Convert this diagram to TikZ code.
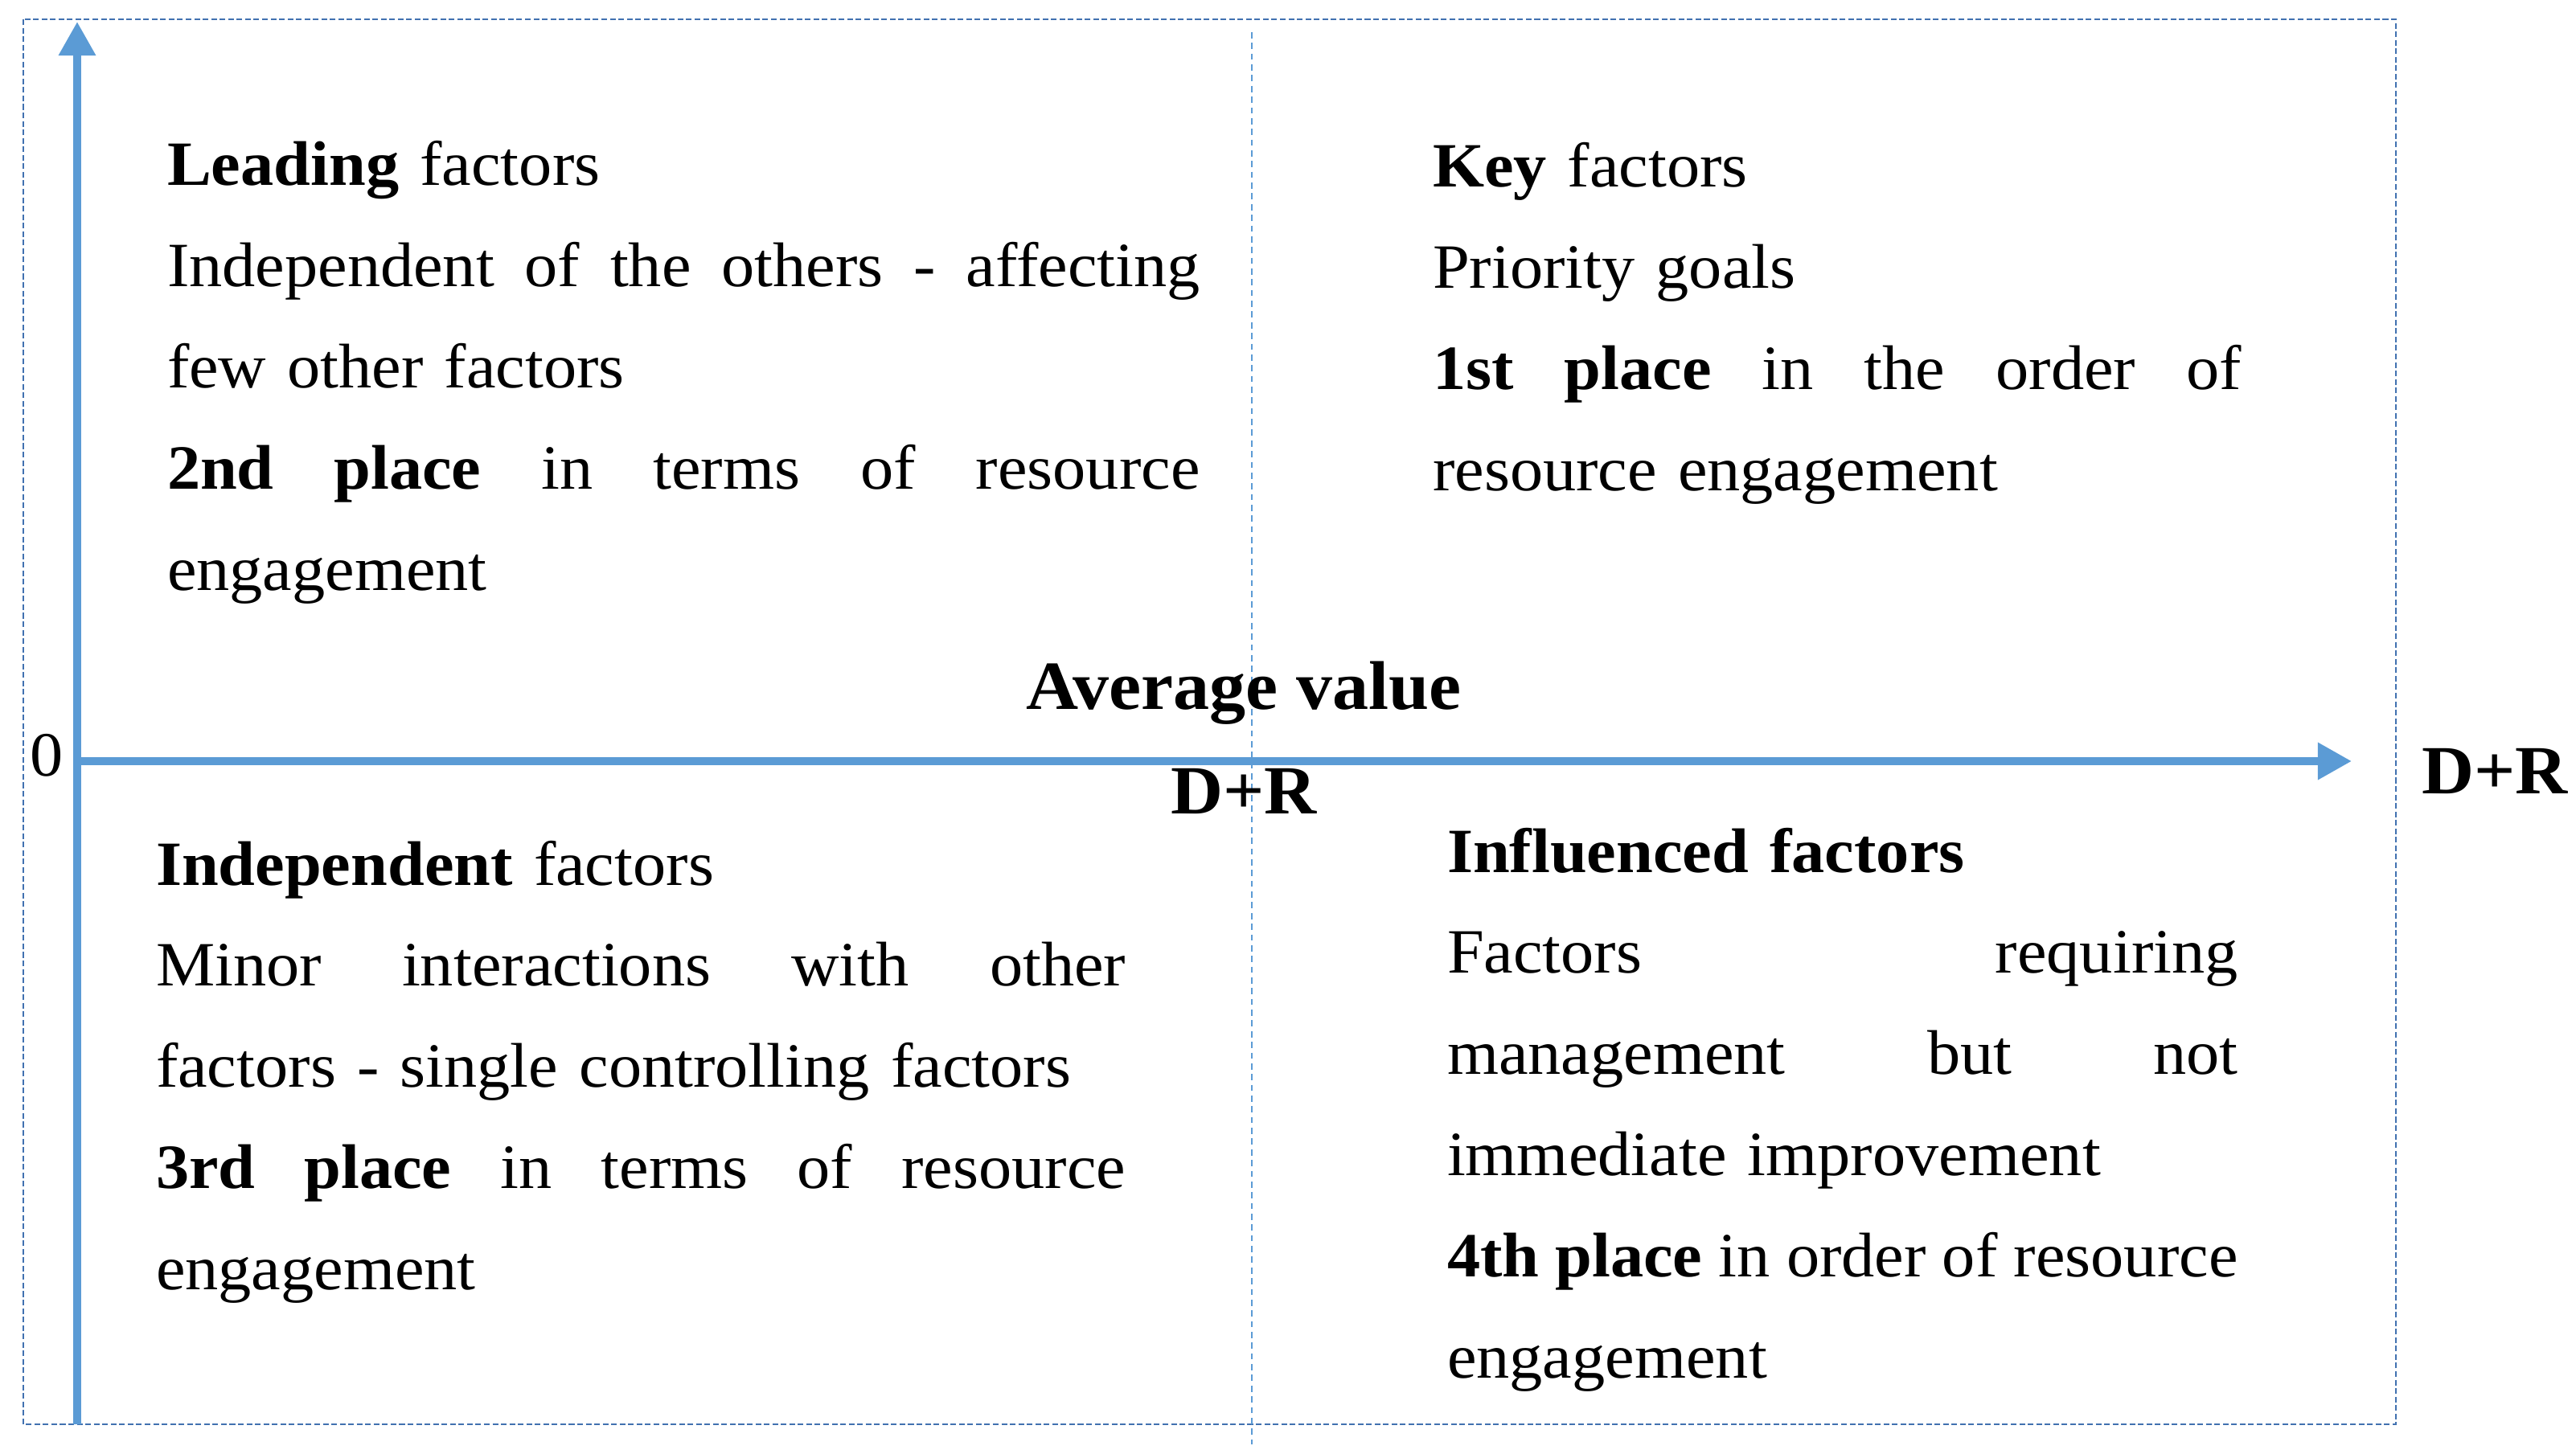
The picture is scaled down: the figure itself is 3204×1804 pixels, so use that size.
\documentclass[tikz,border=0pt]{standalone}
\usepackage{fontspec}
\setmainfont{Liberation Serif}[FakeStretch=1.05]
\usetikzlibrary{arrows.meta}
\definecolor{axisblue}{HTML}{5B9BD5}
\definecolor{boxblue}{RGB}{65,113,176}
\newcommand{\jl}[2]{\leavevmode\hbox to #1{#2}}
\newcommand{\gs}{\hskip 0.25em plus 1fil minus 0.12em}
\tikzset{
  axisline/.style={draw=axisblue, line width=2.85pt, -{Triangle[length=12pt,width=12.5pt]}},
  frameline/.style={draw=boxblue, line width=0.8pt, dash pattern=on 2pt off 1pt},
  midline/.style={draw=axisblue, line width=0.6pt, dash pattern=on 2.2pt off 1.6pt},
  body/.style={inner sep=0pt, outer sep=0pt, anchor=base west, align=left,
    font=\fontsize{22.3}{35.8}\selectfont},
  axlabel/.style={inner sep=0pt, outer sep=0pt, font=\fontsize{24.4}{28}\selectfont\bfseries}
}
\begin{document}
\begin{tikzpicture}[x=0.01cm, y=-0.01cm]
\useasboundingbox (0,0) rectangle (3204,1804);
% frame
\draw[frameline] (29,24) rectangle (2980,1772);
% middle dashed line
\coordinate (mtop) at (1557,40);
\coordinate (mbot) at (1557,1797);
\draw[midline] (mtop) -- (mbot);
% axes
\coordinate (ybot) at (96,1772);
\coordinate (ytop) at (96,27);
\coordinate (xorg) at (96,947);
\coordinate (xend) at (2925,947);
\draw[axisline] (ybot) -- (ytop);
\draw[axisline] (xorg) -- (xend);
% axis labels
\node[inner sep=0pt, anchor=base, font=\fontsize{22.3}{26}\selectfont] (zero) at (58,965) {0};
\node[axlabel, anchor=base] (avg) at (1547,883) {Average value};
\node[axlabel, anchor=base] (dr1) at (1547,1012) {D+R};
\node[axlabel, anchor=base west] (dr2) at (3012,987) {D+R};
% quadrants
\node[body, text width=366pt] (tl) at (208,231) {%
\textbf{Leading} factors\\
\jl{365.3pt}{Independent\gs of\gs the\gs others\gs -\gs affecting}\\
few other factors\\
\jl{365.3pt}{\textbf{2nd\gs place}\gs in\gs terms\gs of\gs resource}\\
engagement};
\node[body, text width=287pt] (tr) at (1782,233) {%
\textbf{Key} factors\\
Priority goals\\
\jl{286pt}{\textbf{1st\gs place}\gs in\gs the\gs order\gs of}\\
resource engagement};
\node[body, text width=344pt] (bl) at (194,1101) {%
\textbf{Independent} factors\\
\jl{343pt}{Minor\gs interactions\gs with\gs other}\\
factors - single controlling factors\\
\jl{343pt}{\textbf{3rd\gs place}\gs in\gs terms\gs of\gs resource}\\
engagement};
\node[body, text width=281pt] (br) at (1800,1085) {%
\textbf{Influenced factors}\\
\jl{279.7pt}{Factors\gs requiring}\\
\jl{279.7pt}{management\gs but\gs not}\\
immediate improvement\\
\jl{279.7pt}{\textbf{4th\gs place}\gs in\gs order\gs of\gs resource}\\
engagement};
\end{tikzpicture}
\end{document}
